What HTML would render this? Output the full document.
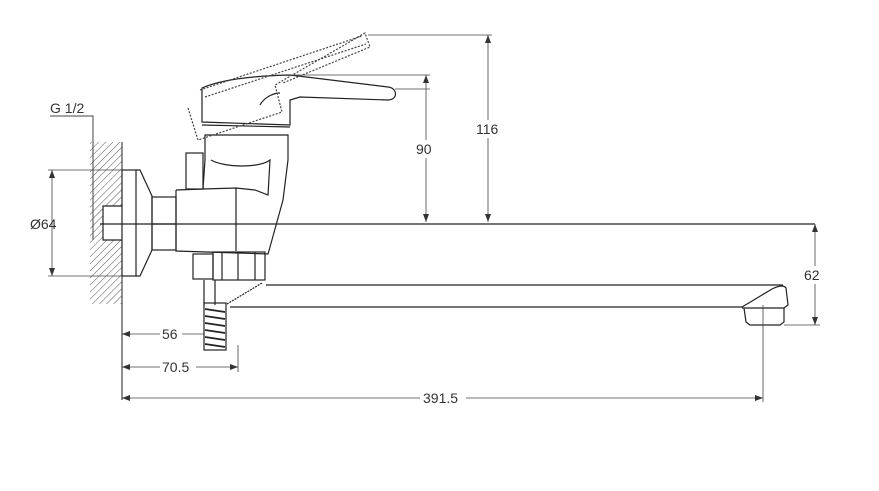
<!DOCTYPE html>
<html><head><meta charset="utf-8"><style>
html,body{margin:0;padding:0;background:#fff}
svg{display:block}
text{font-family:"Liberation Sans",sans-serif;font-size:14px;fill:#333}
</style></head><body>
<svg width="879" height="491" viewBox="0 0 879 491" xmlns="http://www.w3.org/2000/svg">
<defs>
<pattern id="h" width="5" height="5" patternUnits="userSpaceOnUse" patternTransform="rotate(45)">
<line x1="0" y1="0" x2="0" y2="5" stroke="#444" stroke-width="0.9"/></pattern>
<marker id="a" markerWidth="8" markerHeight="6" refX="8" refY="3" orient="auto-start-reverse" markerUnits="userSpaceOnUse">
<path d="M0,0 L8,3 L0,6 z" fill="#333"/></marker>
</defs>
<g stroke="#222" fill="none" stroke-width="1.2">
<rect x="90" y="142" width="32" height="162" fill="url(#h)" stroke="none"/>
<rect x="103" y="206" width="19" height="34" fill="#fff" stroke="none"/>
<line x1="122" y1="142" x2="122" y2="400" stroke-width="1"/>
<polyline points="50,116 93,116 93,240" stroke="#444" stroke-width="1"/>
<polyline points="122,206 103,206 103,240 122,240"/>
<rect x="122" y="170" width="14" height="106"/>
<polyline points="136,170 140,170 152,196 152,250 140,276 136,276"/>
<rect x="152" y="197" width="24" height="53"/>
<line x1="152" y1="224" x2="176" y2="224"/>
<polyline points="176,190 176,251 238,253 268,254 270,247 283,200 288,160 288,135 205,135 205,160 203,189 176,190"/>
<polyline points="203,189 236,188 236,251"/>
<path d="M211,160 C225,168 260,168 270,160 L268,195 L255,190 L236,188"/>
<rect x="186" y="153" width="17" height="36"/>
<path d="M202,88 C220,80 250,76 290,75 L388,87 C398,88 398,100 388,100 L300,97 L290,100 L290,125 L202,122 z"/>
<line x1="202" y1="125" x2="290" y2="127"/>
<path d="M260,105 C265,96 275,93 280,93" />
<path d="M188,108 L198,140 L282,112 L275,85 L365,33 L370,47 L283,83" stroke-dasharray="2,1.5" stroke="#444"/>
<path d="M200,90 L362,36 M205,97 L366,44" stroke-dasharray="2,1.5" stroke="#444"/>
<rect x="193" y="254" width="20" height="25"/>
<rect x="213" y="252" width="52" height="28"/>
<line x1="222" y1="252" x2="222" y2="280"/><line x1="238" y1="252" x2="238" y2="280"/><line x1="255" y1="252" x2="255" y2="280"/>
<line x1="204" y1="280" x2="204" y2="305"/><line x1="215" y1="280" x2="215" y2="305"/>
<line x1="262" y1="283" x2="227" y2="304" stroke-dasharray="2,1"/>
<g stroke-width="1.8">
<rect x="204" y="303" width="22" height="47" stroke-width="1.2"/>
<line x1="205" y1="309" x2="225" y2="312"/><line x1="205" y1="316" x2="225" y2="319"/>
<line x1="205" y1="323" x2="225" y2="326"/><line x1="205" y1="330" x2="225" y2="333"/>
<line x1="205" y1="337" x2="225" y2="340"/><line x1="205" y1="344" x2="225" y2="347"/>
</g>
<line x1="266" y1="285" x2="783" y2="285"/>
<line x1="230" y1="307" x2="742" y2="307"/>
<path d="M742,307 L772,289 C780,285 784,285 786,288 L788,305 L784,308 L742,308"/>
<path d="M744,308 L746,322 L750,325 L780,325 L784,322 L784,308"/>
<line x1="100" y1="224" x2="815" y2="224"/>
</g>
<g stroke="#444" fill="none" stroke-width="0.8">
<line x1="48" y1="170" x2="122" y2="170"/><line x1="48" y1="276" x2="122" y2="276"/>
<line x1="52" y1="170" x2="52" y2="276" marker-start="url(#a)" marker-end="url(#a)"/>
<line x1="290" y1="75" x2="430" y2="75"/><line x1="395" y1="89" x2="430" y2="89"/>
<line x1="426" y1="75" x2="426" y2="222" marker-start="url(#a)" marker-end="url(#a)"/>
<line x1="368" y1="35" x2="492" y2="35"/>
<line x1="488" y1="35" x2="488" y2="222" marker-start="url(#a)" marker-end="url(#a)"/>
<line x1="784" y1="325" x2="820" y2="325"/>
<line x1="815" y1="224" x2="815" y2="325" marker-start="url(#a)" marker-end="url(#a)"/>
<line x1="763" y1="305" x2="763" y2="402"/>
<line x1="238" y1="345" x2="238" y2="372"/>
<line x1="122" y1="334" x2="204" y2="334" marker-start="url(#a)"/>
<line x1="122" y1="367" x2="238" y2="367" marker-start="url(#a)" marker-end="url(#a)"/>
<line x1="122" y1="398" x2="763" y2="398" marker-start="url(#a)" marker-end="url(#a)"/>
</g>
<g>
<rect x="160" y="326" width="22" height="16" fill="#fff"/>
<rect x="160" y="359" width="36" height="16" fill="#fff"/>
<rect x="420" y="390" width="46" height="16" fill="#fff"/>
<rect x="414" y="140" width="24" height="18" fill="#fff"/>
<rect x="474" y="120" width="30" height="18" fill="#fff"/>
<rect x="802" y="266" width="26" height="18" fill="#fff"/>
<text x="50" y="113">G 1/2</text>
<text x="30" y="229">Ø64</text>
<text x="162" y="339">56</text>
<text x="162" y="372">70.5</text>
<text x="423" y="403">391.5</text>
<text x="416" y="154">90</text>
<text x="476" y="134">116</text>
<text x="804" y="280">62</text>
</g>
</svg>
</body></html>
